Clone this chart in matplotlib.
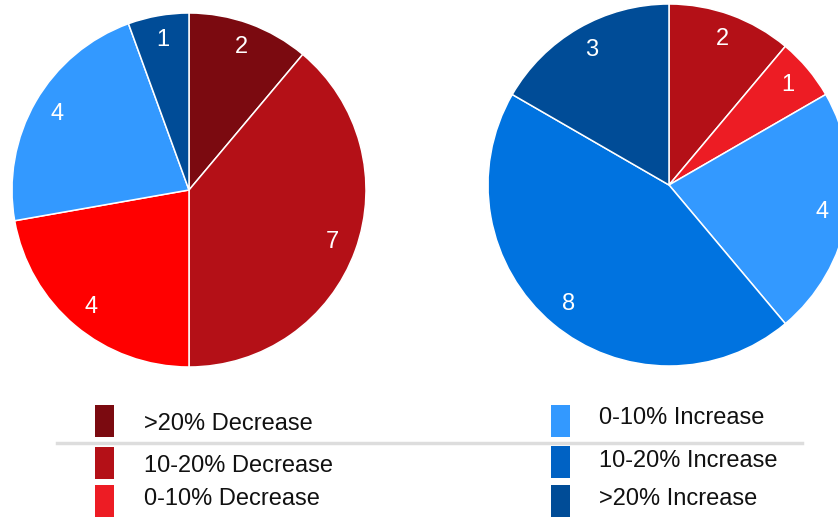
import matplotlib.pyplot as plt
from matplotlib.patches import Rectangle
from matplotlib.lines import Line2D

plt.rcParams['font.family'] = ['Liberation Sans', 'DejaVu Sans']

categories = ['>20% Decrease', '10-20% Decrease', '0-10% Decrease',
              '0-10% Increase', '10-20% Increase', '>20% Increase']
legend_colors = ['#7b0a10', '#b41017', '#ed1c24', '#3399ff', '#0062c4', '#004c97']

left_values = [2, 7, 4, 4, 1]
left_colors = ['#7b0a10', '#b41017', '#ff0000', '#3399ff', '#004c97']

right_values = [2, 1, 4, 8, 3]
right_colors = ['#b41017', '#ed1c24', '#3399ff', '#0073e0', '#004c97']

W, H = 838, 517
fig = plt.figure(figsize=(W / 100, H / 100), dpi=100)


def pie_axes(cx, cy, r):
    return fig.add_axes([(cx - r) / W, 1 - (cy + r) / H, 2 * r / W, 2 * r / H])


def draw_pie(ax, values, colors):
    ax.pie(values, colors=colors, startangle=90, counterclock=False,
           labels=[str(v) for v in values], labeldistance=0.86,
           wedgeprops=dict(edgecolor='white', linewidth=1.1),
           textprops=dict(color='white', fontsize=17, ha='center', va='center'))
    ax.set_xlim(-1, 1)
    ax.set_ylim(-1, 1)
    ax.set_aspect('equal')
    ax.axis('off')


draw_pie(pie_axes(189, 190, 177), left_values, left_colors)
draw_pie(pie_axes(669, 185, 181), right_values, right_colors)

# legend, two columns of three
rows_y = [[421, 463, 501], [421, 462, 501]]
text_y = [[424, 466, 499], [418, 461, 499]]
for i, (lab, col) in enumerate(zip(categories, legend_colors)):
    c, r = divmod(i, 3)
    sx = 95 if c == 0 else 551
    tx = 144 if c == 0 else 599
    sy = rows_y[c][r]
    fig.patches.append(Rectangle((sx / W, 1 - (sy + 16) / H), 19 / W, 32 / H,
                                 facecolor=col, edgecolor='none',
                                 transform=fig.transFigure, figure=fig))
    fig.text(tx / W, 1 - text_y[c][r] / H, lab, fontsize=17, va='center',
             ha='left', color='#111111')

fig.lines.append(Line2D([57 / W, 802 / W], [1 - 443 / H, 1 - 443 / H],
                        color='#dddddd', linewidth=2.5,
                        transform=fig.transFigure, figure=fig))

fig.savefig('out.png', dpi=100)
